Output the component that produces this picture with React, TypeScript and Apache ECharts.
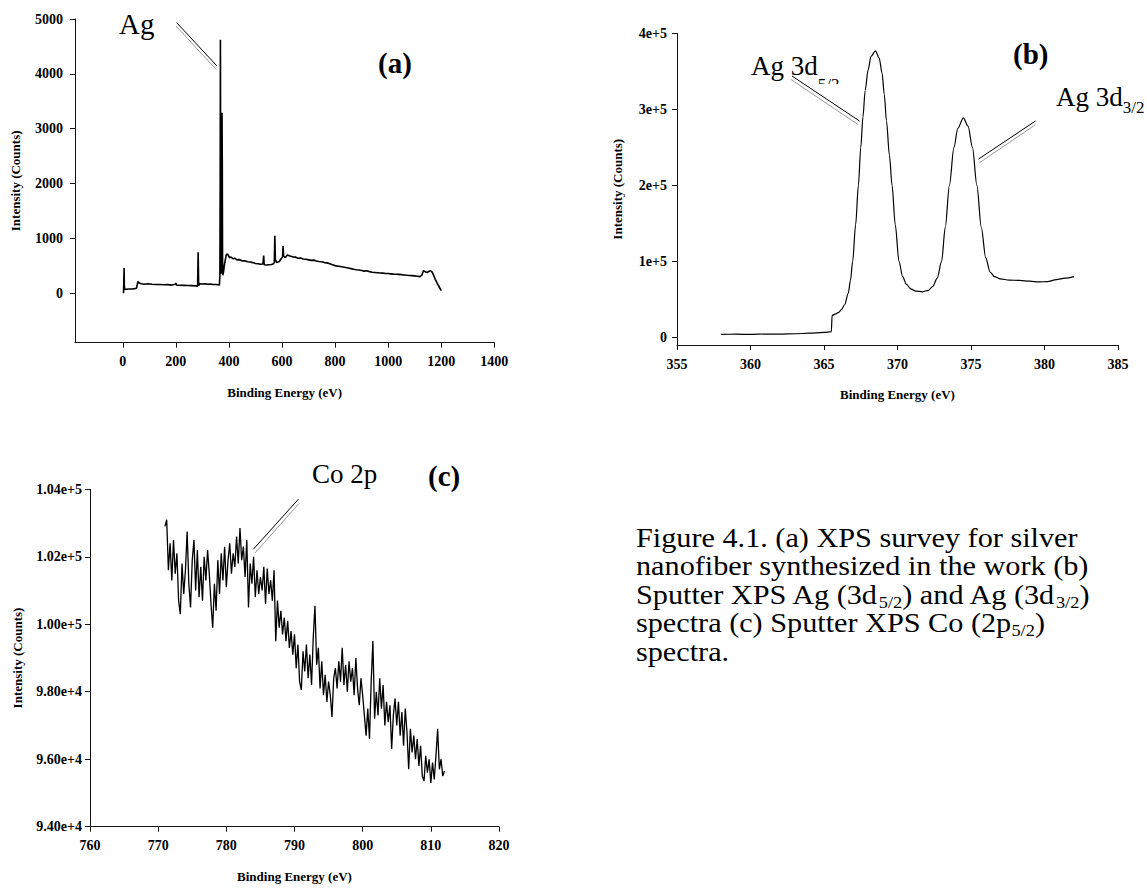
import React, { useEffect, useRef } from "react";
import * as echarts from "echarts";

// ---------- Panel (a): XPS survey ----------
const surveyData: [number, number][] = [
  [0, 10], [3, 20], [5, 460], [6, 120], [8, 70], [15, 75], [25, 80], [35, 78], [45, 85], [52, 95],
  [57, 215], [62, 190], [70, 175], [80, 165], [95, 175], [110, 165], [125, 160], [140, 162], [155, 155],
  [170, 158], [185, 150], [197, 165], [200, 185], [203, 150], [215, 148], [230, 145], [245, 142],
  [260, 140], [275, 135], [282, 130], [284, 750], [286, 140], [290, 175], [300, 170], [310, 172],
  [320, 165], [330, 168], [340, 160], [350, 162], [360, 155], [364, 150], [366, 320], [367, 1900],
  [368, 4620], [369, 1300], [370, 480], [371, 360], [372, 420], [373, 1100], [374, 3290], [375, 2400],
  [376, 600], [377, 330], [380, 400], [383, 520], [386, 600], [390, 700], [394, 720], [398, 690],
  [402, 650], [408, 660], [415, 630], [422, 640], [430, 610], [440, 615], [450, 590], [460, 595],
  [470, 575], [480, 570], [490, 560], [500, 545], [510, 540], [520, 530], [528, 535], [531, 690],
  [533, 520], [540, 515], [550, 520], [560, 525], [568, 540], [571, 560], [573, 1050], [575, 620],
  [580, 560], [590, 580], [598, 640], [602, 660], [604, 860], [606, 680], [612, 650], [620, 700],
  [630, 680], [640, 665], [650, 660], [660, 640], [670, 645], [680, 625], [690, 620], [700, 610],
  [710, 600], [720, 605], [730, 590], [740, 580], [750, 575], [760, 560], [770, 555], [780, 540],
  [790, 520], [800, 505], [810, 495], [820, 490], [830, 480], [840, 470], [850, 460], [860, 450],
  [870, 440], [880, 430], [890, 425], [900, 415], [910, 405], [920, 410], [930, 395], [940, 385],
  [950, 380], [960, 375], [970, 370], [980, 368], [990, 362], [1000, 360], [1010, 355], [1020, 350],
  [1030, 348], [1040, 345], [1050, 340], [1060, 335], [1070, 330], [1080, 325], [1090, 322],
  [1100, 318], [1110, 312], [1120, 305], [1127, 330], [1133, 410], [1140, 395], [1147, 380],
  [1153, 400], [1160, 410], [1166, 385], [1172, 320], [1178, 250], [1185, 180], [1192, 120], [1200, 50],
];
const surveyXTicks = [0, 200, 400, 600, 800, 1000, 1200, 1400];
const surveyYTicks = [0, 1000, 2000, 3000, 4000, 5000];

// ---------- Panel (b): Ag 3d ----------
const agData: [number, number][] = [
  [358.0, 4000], [359.0, 4200], [360.0, 4000], [361.0, 4500], [362.0, 4300], [363.0, 4800],
  [364.0, 5500], [365.0, 6500], [365.5, 7500], [365.55, 29000], [365.8, 31000], [366.0, 33000],
  [366.2, 37000], [366.4, 43000], [366.65, 58000], [366.8, 75000], [366.95, 100000], [367.15, 148000],
  [367.34, 200000], [367.5, 250000], [367.65, 290000], [367.8, 325000], [368.0, 352000], [368.2, 370000],
  [368.5, 377000], [368.75, 368000], [368.95, 348000], [369.1, 320000], [369.25, 285000], [369.45, 240000],
  [369.63, 200000], [369.85, 148000], [370.1, 100000], [370.35, 80000], [370.6, 70000], [370.9, 64000],
  [371.25, 61000], [371.7, 60000], [372.1, 62000], [372.4, 67000], [372.7, 78000], [373.0, 100000],
  [373.25, 145000], [373.53, 200000], [373.84, 250000], [374.1, 275000], [374.48, 289000], [374.8, 278000],
  [375.1, 250000], [375.4, 200000], [375.7, 145000], [376.0, 105000], [376.3, 86000], [376.6, 80000],
  [377.0, 77000], [377.6, 75500], [378.3, 75000], [379.0, 74000], [379.6, 73000], [380.2, 73500],
  [380.8, 76000], [381.4, 78000], [382.0, 80000],
];
const agYTicks = [0, 100000, 200000, 300000, 400000];

// ---------- Panel (c): Co 2p ----------
const coData: [number, number][] = [
  [771.0, 102900], [771.25, 103100], [771.5, 101600], [771.75, 102400], [772.0, 101300], [772.25, 102500],
  [772.5, 101500], [772.75, 102100], [773.0, 100700], [773.25, 100300], [773.5, 101800], [773.75, 100900],
  [774.0, 101600], [774.25, 102750], [774.5, 101200], [774.75, 100500], [775.0, 101900], [775.25, 102500],
  [775.5, 101000], [775.75, 102200], [776.0, 100800], [776.25, 101700], [776.5, 100700], [776.75, 102000],
  [777.0, 101300], [777.25, 102200], [777.5, 101500], [777.75, 100600], [778.0, 99900], [778.25, 101200],
  [778.5, 100400], [778.75, 101900], [779.0, 100900], [779.25, 102100], [779.5, 101300], [779.75, 102300],
  [780.0, 101100], [780.25, 101900], [780.5, 102400], [780.75, 101500], [781.0, 102100], [781.25, 101700],
  [781.5, 102600], [781.75, 101800], [782.0, 102850], [782.25, 101900], [782.5, 102300], [782.75, 101400],
  [783.0, 102500], [783.25, 100500], [783.5, 101800], [783.75, 101200], [784.0, 102000], [784.25, 100800],
  [784.5, 101600], [784.75, 100900], [785.0, 101400], [785.25, 101000], [785.5, 101700], [785.75, 100600],
  [786.0, 101650], [786.25, 100900], [786.5, 101300], [786.75, 100700], [787.0, 101600], [787.25, 99500],
  [787.5, 100700], [787.75, 99900], [788.0, 100400], [788.25, 99700], [788.5, 100200], [788.75, 99500],
  [789.0, 100100], [789.25, 99300], [789.5, 99800], [789.75, 99100], [790.0, 99700], [790.25, 98700],
  [790.5, 99400], [790.75, 98300], [791.0, 98050], [791.25, 99200], [791.5, 98600], [791.75, 99400],
  [792.0, 98400], [792.25, 99100], [792.5, 98200], [792.75, 99600], [793.0, 100550], [793.25, 98800],
  [793.5, 99300], [793.75, 98100], [794.0, 98900], [794.25, 97900], [794.5, 98500], [794.75, 97700],
  [795.0, 98300], [795.25, 97900], [795.5, 97250], [795.75, 98400], [796.0, 98700], [796.25, 98100],
  [796.5, 98900], [796.75, 98300], [797.0, 99300], [797.25, 98200], [797.5, 98800], [797.75, 98000],
  [798.0, 98900], [798.25, 98300], [798.5, 98700], [798.75, 97900], [799.0, 99000], [799.25, 98100],
  [799.5, 97600], [799.75, 98400], [800.0, 97900], [800.25, 97300], [800.5, 96700], [800.75, 97500],
  [801.0, 96600], [801.25, 98300], [801.5, 99500], [801.75, 97200], [802.0, 98000], [802.25, 97300],
  [802.5, 98400], [802.75, 97500], [803.0, 98200], [803.25, 97000], [803.5, 97700], [803.75, 97100],
  [804.0, 97600], [804.25, 96300], [804.5, 97300], [804.75, 97800], [805.0, 97000], [805.25, 97700],
  [805.5, 96700], [805.75, 97400], [806.0, 96400], [806.25, 97500], [806.5, 96800], [806.75, 95700],
  [807.0, 96900], [807.25, 96200], [807.5, 96700], [807.75, 96000], [808.0, 96600], [808.25, 95800],
  [808.5, 96400], [808.75, 95500], [809.0, 95350], [809.25, 96100], [809.5, 95600], [809.75, 96000],
  [810.0, 95300], [810.25, 95900], [810.5, 95400], [810.75, 96100], [811.0, 96900], [811.25, 95700],
  [811.5, 96000], [811.75, 95500], [812.0, 95650],
];

// ---------- Caption ----------
type Frag = { t: string; sub?: boolean };
const captionLines: Frag[][] = [
  [{ t: "Figure 4.1. (a) XPS survey for silver" }],
  [{ t: "nanofiber synthesized in the work (b)" }],
  [
    { t: "Sputter XPS Ag (3d" }, { t: "5/2", sub: true }, { t: ") and Ag (3d" },
    { t: "3/2", sub: true }, { t: ")" },
  ],
  [{ t: "spectra (c) Sputter XPS Co (2p" }, { t: "5/2", sub: true }, { t: ")" }],
  [{ t: "spectra." }],
];

const SERIF = "'Liberation Serif', 'Times New Roman', serif";

export default function App() {
  const ref = useRef<HTMLDivElement>(null);

  useEffect(() => {
    const el = ref.current;
    if (!el) return;
    const chart = echarts.init(el, null, { renderer: "svg" });

    const canvas = document.createElement("canvas");
    const ctx = canvas.getContext("2d")!;
    const measure = (t: string, f: string) => {
      ctx.font = f;
      return ctx.measureText(t).width;
    };
    // place text by its alphabetic baseline (SVG central baseline ≈ 0.3375em above baseline)
    const txt = (
      text: string,
      x: number,
      base: number,
      fs: number,
      bold = false,
      sx = 1,
      z = 5
    ): any => ({
      type: "text",
      z,
      x,
      y: base - 0.3375 * fs,
      scaleX: sx,
      style: {
        text,
        x: 0,
        y: 0,
        font: `${bold ? "bold " : ""}${fs}px ${SERIF}`,
        fill: "#000",
        textAlign: "left",
        verticalAlign: "middle",
        textVerticalAlign: "middle",
      },
    });
    const seg = (x1: number, y1: number, x2: number, y2: number, color: string, w = 1): any => ({
      type: "line",
      z: 8,
      shape: { x1, y1, x2, y2 },
      style: { stroke: color, lineWidth: w },
    });

    const graphics: any[] = [];
    // panel (a)
    graphics.push(txt("Ag", 119, 34, 29));
    graphics.push(txt("(a)", 378, 73, 29, true));
    graphics.push(seg(176.7, 22.7, 216.7, 65.7, "#000"));
    graphics.push(seg(176.2, 26.2, 216.2, 69.5, "#9a9a9a"));
    // panel (b)
    graphics.push(txt("Ag 3d", 751, 75, 27));
    const w1 = measure("Ag 3d", `27px ${SERIF}`);
    graphics.push(txt("5/2", 751 + w1, 90, 17));
    graphics.push({
      type: "rect",
      z: 6,
      shape: { x: 751 + w1 - 1, y: 84, width: 30, height: 14 },
      style: { fill: "#fff" },
    });
    graphics.push(seg(792, 76, 859.5, 121, "#000"));
    graphics.push(seg(791, 79.5, 858, 124.5, "#9a9a9a"));
    graphics.push(txt("Ag 3d", 1056, 106, 27));
    const w2 = measure("Ag 3d", `27px ${SERIF}`);
    graphics.push(txt("3/2", 1056 + w2, 113, 17));
    graphics.push(seg(1035.5, 121, 978.6, 159, "#000"));
    graphics.push(seg(1035.5, 124.7, 979.5, 162.7, "#9a9a9a"));
    graphics.push(txt("(b)", 1013, 64, 29, true));
    // panel (c)
    graphics.push(txt("Co 2p", 312, 482.7, 27));
    graphics.push(txt("(c)", 428, 486, 29, true));
    graphics.push(seg(298.3, 499.3, 253.3, 549.3, "#000"));
    graphics.push(seg(299, 503.5, 255, 553, "#9a9a9a"));

    // caption
    const CAP_FS = 28;
    const SUB_FS = 17;
    const SX = 1.08;
    captionLines.forEach((frags, i) => {
      let x = 636;
      const base = 546.7 + i * 28.5;
      frags.forEach((fr) => {
        const fs = fr.sub ? SUB_FS : CAP_FS;
        const f = `${fs}px ${SERIF}`;
        graphics.push(txt(fr.t, x, fr.sub ? base + 4 : base, fs, false, SX));
        x += measure(fr.t, f) * SX;
      });
    });

    const labelStyle = {
      fontFamily: SERIF,
      fontWeight: "bold" as const,
      fontSize: 14,
      color: "#000",
    };
    const nameStyle = {
      fontFamily: SERIF,
      fontWeight: "bold" as const,
      fontSize: 13,
      color: "#000",
    };
    const lineStyle = { color: "#111", width: 1 };

    const xAxisBase = (gridIndex: number, extra: any) => ({
      type: "value",
      gridIndex,
      name: "Binding Energy (eV)",
      nameLocation: "middle",
      nameGap: 43,
      nameTextStyle: nameStyle,
      axisLine: { show: true, onZero: false, lineStyle },
      axisTick: { show: true, length: 5, inside: false, lineStyle },
      splitLine: { show: false },
      ...extra,
      axisLabel: {
        ...labelStyle,
        margin: 12,
        formatter: (v: number) => String(v),
        ...(extra.axisLabel || {}),
      },
    });
    const yAxisBase = (gridIndex: number, nameGap: number, extra: any) => ({
      type: "value",
      gridIndex,
      name: "Intensity (Counts)",
      nameLocation: "middle",
      nameGap,
      nameRotate: 90,
      nameTextStyle: nameStyle,
      axisLine: { show: true, onZero: false, lineStyle },
      axisTick: { show: true, length: 5, inside: false, lineStyle },
      splitLine: { show: false },
      ...extra,
      axisLabel: {
        ...labelStyle,
        margin: 10,
        formatter: (v: number) => String(v),
        ...(extra.axisLabel || {}),
      },
    });

    const option: any = {
      animation: false,
      backgroundColor: "#fff",
      grid: [
        { left: 75, top: 19, width: 419.3, height: 323.7 },
        { left: 677, top: 33.5, width: 441, height: 311.5 },
        { left: 90, top: 489.3, width: 409, height: 337.4 },
      ],
      xAxis: [
        xAxisBase(0, {
          min: -180,
          max: 1400,
          axisLabel: { customValues: surveyXTicks },
          axisTick: { show: true, length: 5, lineStyle, customValues: surveyXTicks },
        }),
        xAxisBase(1, { min: 355, max: 385, interval: 5 }),
        xAxisBase(2, { min: 760, max: 820, interval: 10 }),
      ],
      yAxis: [
        yAxisBase(0, 53, {
          min: -900,
          max: 5000,
          axisLabel: { customValues: surveyYTicks, margin: 12 },
          axisTick: { show: true, length: 5, lineStyle, customValues: surveyYTicks },
        }),
        yAxisBase(1, 53, {
          min: -10000,
          max: 400000,
          axisLabel: {
            customValues: agYTicks,
            formatter: (v: number) => (v === 0 ? "0" : v.toExponential(0)),
          },
          axisTick: { show: true, length: 5, lineStyle, customValues: agYTicks },
        }),
        yAxisBase(2, 66, {
          min: 94000,
          max: 104000,
          interval: 2000,
          axisLabel: { margin: 8, formatter: (v: number) => v.toExponential(2) },
        }),
      ],
      series: [
        {
          type: "line",
          xAxisIndex: 0,
          yAxisIndex: 0,
          data: surveyData,
          showSymbol: false,
          symbol: "none",
          lineStyle: { color: "#000", width: 1.6 },
        },
        {
          type: "line",
          xAxisIndex: 1,
          yAxisIndex: 1,
          data: agData,
          showSymbol: false,
          symbol: "none",
          smooth: 0.3,
          smoothMonotone: "x",
          lineStyle: { color: "#000", width: 1.2 },
        },
        {
          type: "line",
          xAxisIndex: 2,
          yAxisIndex: 2,
          data: coData,
          showSymbol: false,
          symbol: "none",
          lineStyle: { color: "#000", width: 1.3 },
        },
      ],
      graphic: { elements: graphics },
    };

    chart.setOption(option);
    return () => chart.dispose();
  }, []);

  return (
    <div
      ref={ref}
      style={{ position: "absolute", left: 0, top: 0, width: 1147, height: 890, background: "#fff" }}
    />
  );
}
